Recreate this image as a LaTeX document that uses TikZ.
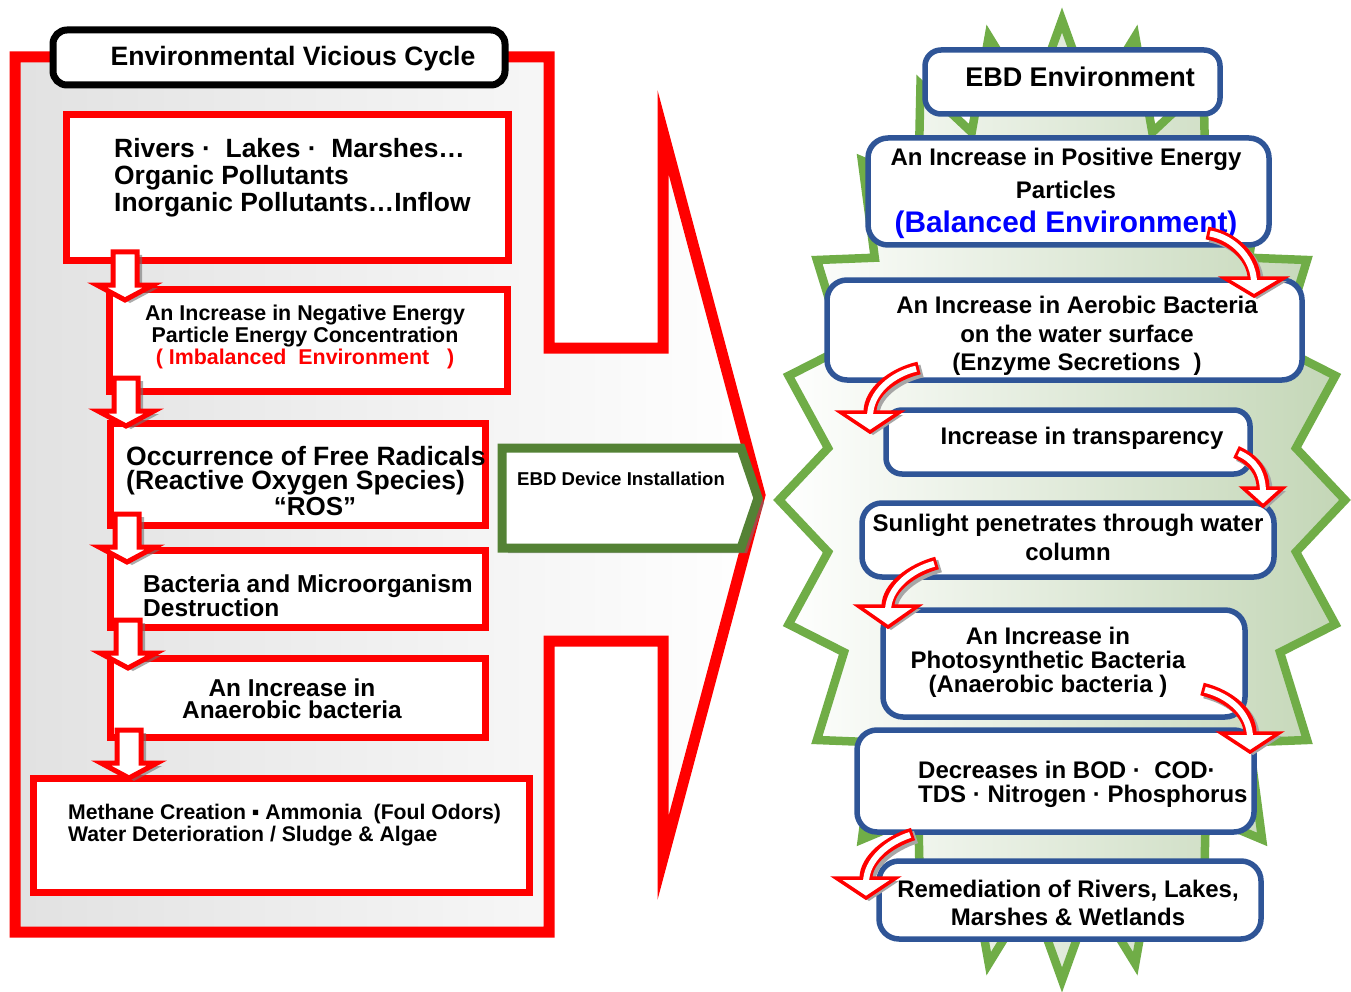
\documentclass[tikz,border=0pt]{standalone}
\usepackage{fontspec}
\setmainfont{Liberation Sans}
\usetikzlibrary{calc}
\definecolor{ebdgreen}{HTML}{548235}
\definecolor{stargreen}{HTML}{70AD47}
\definecolor{boxblue}{HTML}{2F5597}
\definecolor{starright}{HTML}{C3D6B6}
\definecolor{purered}{HTML}{FF0000}
\definecolor{pureblue}{HTML}{0000FF}
\newcommand\fs[2]{\fontsize{#1}{#2}\selectfont\bfseries}
\newcommand\CArr[6]{%
  \begin{scope}[shift={(3,3)}]
    \draw[black!35, line width=13pt] #1 .. controls #2 and #3 .. #4;
    \fill[black!35] ($#4+(-#5,0)$) -- ($#4+(#5,0)$) -- ($#4+(0,#6)$) -- cycle;
  \end{scope}
  \draw[purered, line width=13pt] #1 .. controls #2 and #3 .. #4;
  \draw[purered, fill=white, line width=3.5pt, line join=miter] ($#4+(-#5,0)$) -- ($#4+(#5,0)$) -- ($#4+(0,#6)$) -- cycle;
  \draw[white, line width=6pt, shorten <=3pt, shorten >=-5pt] #1 .. controls #2 and #3 .. #4;
}
\tikzset{
  lbox/.style={draw=purered, line width=7pt, fill=white, inner sep=0pt, outer sep=0pt},
  rbox/.style={draw=boxblue, line width=5.5pt, fill=white, rounded corners=20pt, inner sep=0pt, outer sep=0pt},
  txt/.style={inner sep=0pt, text=black},
  shadowfill/.style={fill=black!55, opacity=.6},
  downarr/.pic={
    \fill[shadowfill, shift={(5,3)}]
      (-12,0) -- (12,0) -- (12,33) -- (28,33) -- (0,48) -- (-28,33) -- (-12,33) -- cycle;
    \draw[purered, line width=5pt, fill=white, line join=miter]
      (-12,0) -- (12,0) -- (12,33) -- (28,33) -- (0,48) -- (-28,33) -- (-12,33) -- cycle;}
}
\begin{document}
\begin{tikzpicture}[x=1pt,y=-1pt]
\useasboundingbox (0,0) rectangle (1351,992);
\fill[white] (0,0) rectangle (1351,992);

% ---------- right: green star ----------
\draw[stargreen, line width=8.5pt, line join=miter, left color=white, middle color=gray!30, right color=starright]
  (1062,20) \foreach \i in {1,...,47} { -- ({1062 + (mod(\i,2)==0 ? 283 : 236)*sin(\i*7.5)}, {500 - (mod(\i,2)==0 ? 480 : 398)*cos(\i*7.5)}) } -- cycle;

% ---------- right boxes ----------
\node[rbox, rounded corners=16pt, minimum width=295pt, minimum height=64pt] (r1) at (1072.5,82) {};
\node[rbox, minimum width=401pt, minimum height=107pt] (r2) at (1068.5,191.5) {};
\node[rbox, minimum width=475pt, minimum height=100pt] (r3) at (1064.5,330) {};
\node[rbox, rounded corners=16pt, minimum width=364pt, minimum height=64pt] (r4) at (1068,442) {};
\node[rbox, minimum width=412pt, minimum height=74pt] (r5) at (1068,540) {};
\node[rbox, minimum width=362pt, minimum height=107pt] (r6) at (1064,663.5) {};
\node[rbox, minimum width=397pt, minimum height=102pt] (r7) at (1055.5,781) {};
\node[rbox, minimum width=382pt, minimum height=78pt] (r8) at (1070,900) {};

\node[txt, font=\fs{27}{30}] at (1080,77) {EBD Environment};
\node[txt, font=\fs{24}{33.5}, align=center] at (1066,193) {An Increase in Positive Energy\\Particles\\{\fontsize{29.8}{33.5}\selectfont\color{pureblue}(Balanced Environment)}};
\node[txt, font=\fs{24}{28.5}, align=center] at (1077,336) {An Increase in Aerobic Bacteria\\on the water surface\\(Enzyme Secretions\ \ )};
\node[txt, font=\fs{24}{28}] at (1082,438) {Increase in transparency};
\node[txt, font=\fs{24}{29}, align=center] at (1068,537) {Sunlight penetrates through water\\column};
\node[txt, font=\fs{24}{24}, align=center] at (1048,662) {An Increase in\\Photosynthetic Bacteria\\(Anaerobic bacteria )};
\node[txt, font=\fs{24}{24}, align=left, anchor=west] at (918,784) {Decreases in BOD ·\ \ COD·\\TDS · Nitrogen · Phosphorus};
\node[txt, font=\fs{24}{28}, align=center] at (1068,903) {Remediation of Rivers, Lakes,\\Marshes \& Wetlands};

% ---------- curved arrows ----------
\CArr{(1207,233)}{(1235,238)}{(1254,260)}{(1254,278)}{30}{18}
\CArr{(919,368)}{(893,374)}{(870,392)}{(870,412)}{30}{20}
\CArr{(1236,452)}{(1254,460)}{(1263,472)}{(1263,488)}{20}{18}
\CArr{(937,563)}{(911,570)}{(888,588)}{(888,606)}{30}{21}
\CArr{(1202,689)}{(1230,696)}{(1250,714)}{(1250,733)}{29}{19}
\CArr{(913,834)}{(888,842)}{(866,860)}{(866,878)}{30}{20}

% ---------- left panel ----------
\draw[purered, line width=11pt, line join=miter, left color=gray!23, middle color=gray!34, right color=white]
  (15,57) -- (549,57) -- (549,348) -- (663,348) -- (663,132) -- (760,495) -- (663,858)
  -- (663,641) -- (549,641) -- (549,932) -- (15,932) -- cycle;

\node[draw=black, line width=7pt, rounded corners=14pt, fill=white, minimum width=452pt, minimum height=55pt, inner sep=0pt] (title) at (279,57.5) {};
\node[txt, font=\fs{26.6}{30}] at (293,59) {Environmental Vicious Cycle};

\node[lbox, minimum width=442pt, minimum height=146pt] (b1) at (287,188) {};
\node[lbox, minimum width=398pt, minimum height=102pt] (b2) at (308,340) {};
\node[lbox, minimum width=375pt, minimum height=102pt] (b3) at (297.5,474) {};
\node[lbox, minimum width=375pt, minimum height=77pt] (b4) at (297.5,588.5) {};
\node[lbox, minimum width=375pt, minimum height=79pt] (b5) at (297.5,697.5) {};
\node[lbox, minimum width=496pt, minimum height=114pt] (b6) at (281,835) {};

\node[txt, font=\fs{26.4}{27}, align=left, anchor=west] at (114,178) {Rivers · \ Lakes · \ Marshes…\\Organic Pollutants\\Inorganic Pollutants…Inflow};
\node[txt, font=\fs{21.4}{22}, align=center] at (305,337) {An Increase in Negative Energy\\Particle Energy Concentration\\{\color{purered}( Imbalanced\ \ Environment\ \ \ )}};
\node[txt, font=\fs{26.5}{24}, align=left, anchor=west] at (126,471) {Occurrence of Free Radicals\\(Reactive Oxygen Species)};
\node[txt, font=\fs{26}{22}] at (315,507) {“ROS”};
\node[txt, font=\fs{24.5}{21}, align=left, anchor=west] at (143,596) {Bacteria and Microorganism\\Destruction};
\node[txt, font=\fs{24.4}{22.5}, align=center] at (292,699) {An Increase in\\Anaerobic bacteria};
\node[txt, font=\fs{21.2}{22}, align=left, anchor=west] at (68,825) {Methane Creation ▪ Ammonia\ \ (Foul Odors)\\Water Deterioration / Sludge \& Algae};

% ---------- down arrows ----------
\coordinate (d1) at (125,252);
\coordinate (d2) at (126,378);
\coordinate (d3) at (127,514);
\coordinate (d4) at (128,620);
\coordinate (d5) at (129,730);
\foreach \d in {d1,d2,d3,d4,d5} { \pic at (\d) {downarr}; }

% ---------- EBD device ----------
\fill[shadowfill, shift={(6,5)}]
  (502,448) -- (741,448) -- (758,498) -- (741,548) -- (502,548) -- cycle;
\draw[ebdgreen, line width=9pt, fill=white, line join=miter]
  (502,448) -- (741,448) -- (758,498) -- (741,548) -- (502,548) -- cycle;
\node[txt, font=\fs{18.6}{20}, anchor=west] (ebd) at (517,479) {EBD Device Installation};
\end{tikzpicture}
\end{document}
